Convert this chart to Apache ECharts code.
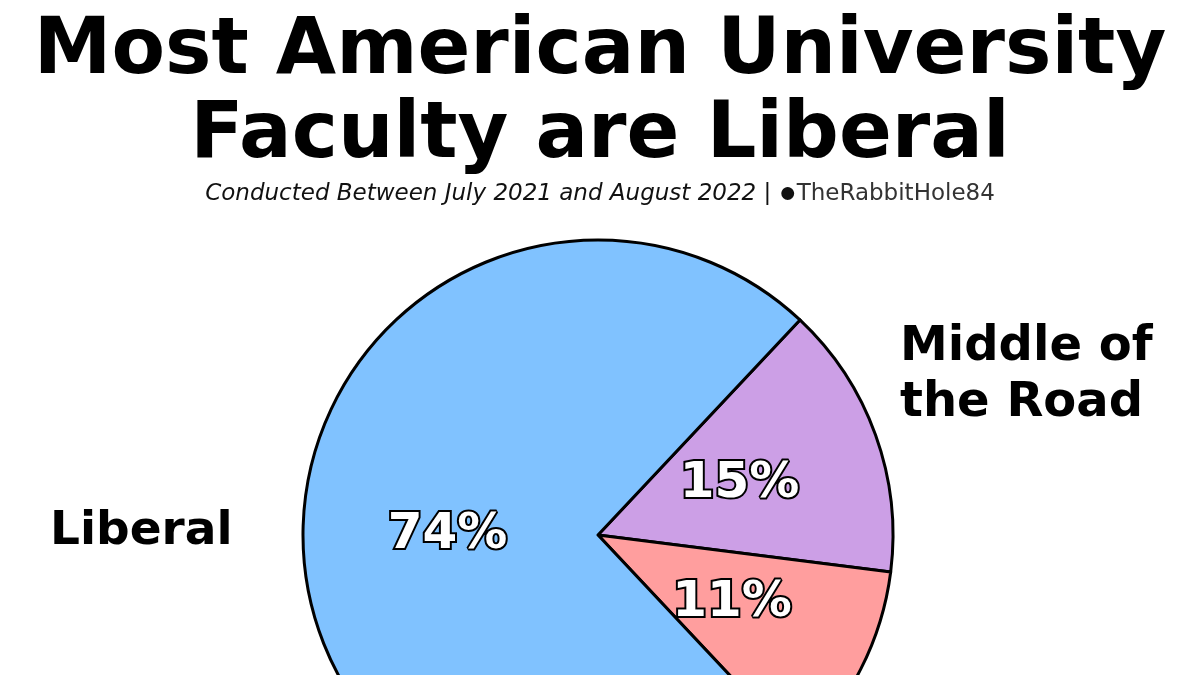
<!DOCTYPE html>
<html>
<head>
<meta charset="utf-8">
<script src="https://cdn.jsdelivr.net/npm/echarts@6/dist/echarts.min.js"></script>
<style>html,body{margin:0;padding:0;background:#fff}#main{width:1200px;height:675px}</style>
</head>
<body>
<div id="main"></div>
<script>
var categories = ['Middle of the Road', 'Conservative', 'Liberal'];
var values = [15, 11, 74];
var colors = ['#cc9fe6', '#ff9e9e', '#80c2ff'];

var myChart = echarts.init(document.getElementById('main'));
var font = 'DejaVu Sans';
myChart.setOption({
    backgroundColor: '#fff',
    title: [{
        text: 'Most American University\nFaculty are Liberal',
        left: 'center', top: 6,
        textStyle: {fontFamily: font, fontSize: 78, fontWeight: 'bold', color: '#000', lineHeight: 84}
    }, {
        text: '{i|Conducted Between July 2021 and August 2022 | }{logo|●}{r|TheRabbitHole84}',
        left: 'center', top: 174,
        textStyle: {
            fontWeight: 'normal',
            rich: {
                i: {fontFamily: font, fontSize: 23, fontStyle: 'italic', fontWeight: 'normal', color: '#111'},
                logo: {fontSize: 30, color: '#111', fontWeight: 'normal'},
                r: {fontFamily: font, fontSize: 23, fontWeight: 'normal', color: '#333'}
            }
        }
    }],
    graphic: [
        {type: 'text', left: 50, top: 508, style: {text: 'Liberal', font: 'bold 47px "DejaVu Sans"', fill: '#000'}},
        {type: 'text', left: 900, top: 320, style: {text: 'Middle of\nthe Road', font: 'bold 48px "DejaVu Sans"', fill: '#000', lineHeight: 56}}
    ],
    series: [{
        type: 'pie',
        center: [598, 535],
        radius: [0, 295],
        startAngle: 46.8,
        clockwise: true,
        data: categories.map(function (c, i) {
            return {name: c, value: values[i], itemStyle: {color: colors[i]}};
        }),
        itemStyle: {borderColor: '#000', borderWidth: 3},
        label: {
            position: 'inner',
            formatter: '{c}%',
            fontFamily: font, fontSize: 50, fontWeight: 'bold',
            color: '#fff', textBorderColor: '#000', textBorderWidth: 4
        },
        labelLine: {show: false},
        emphasis: {disabled: true},
        animation: false
    }]
});
</script>
</body>
</html>
